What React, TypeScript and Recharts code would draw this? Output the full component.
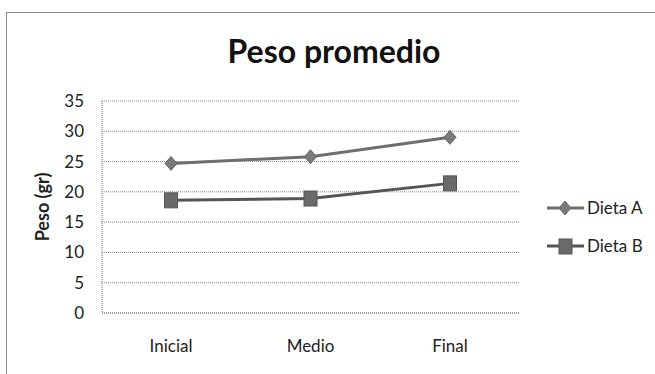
import React from 'react';
import { LineChart, Line, XAxis, YAxis, CartesianGrid } from 'recharts';

const categories = ['Inicial', 'Medio', 'Final'];
const dietaA = [24.7, 25.8, 29.0];
const dietaB = [18.6, 18.9, 21.4];
const yTicks = [0, 5, 10, 15, 20, 25, 30, 35];
const seriesNames = ['Dieta A', 'Dieta B'];

const data = categories.map((c, i) => ({ name: c, A: dietaA[i], B: dietaB[i] }));

const FONT = 'Lato, "Open Sans", sans-serif';
const colA = '#6e6e6e';
const colB = '#555555';

const Diamond = (p: any) => {
  const { cx, cy, index } = p;
  if (cx == null || cy == null) return <g key={'a' + index} />;
  return (
    <path
      key={'a' + index}
      d={`M${cx},${cy - 7} L${cx + 6},${cy} L${cx},${cy + 7} L${cx - 6},${cy} Z`}
      fill="#7a7a7a"
      stroke="#666"
      strokeWidth={1}
    />
  );
};

const Square = (p: any) => {
  const { cx, cy, index } = p;
  if (cx == null || cy == null) return <g key={'b' + index} />;
  return (
    <rect key={'b' + index} x={cx - 6.5} y={cy - 7.5} width={13} height={15} fill="#6a6a6a" stroke="#555" strokeWidth={1} />
  );
};

const LegendBox = () => (
  <svg width={110} height={60} style={{ display: 'block', overflow: 'visible' }}>
    <line x1={2} y1={12} x2={39} y2={12} stroke={colA} strokeWidth={3} />
    <path d="M20,5 L26,12 L20,19 L14,12 Z" fill="#7a7a7a" stroke="#666" />
    <text x={42} y={12} dy="0.35em" fontSize={17} fontFamily={FONT} fill="#222">{seriesNames[0]}</text>
    <line x1={2} y1={50} x2={39} y2={50} stroke={colB} strokeWidth={3} />
    <rect x={14} y={43} width={13} height={15} fill="#6a6a6a" stroke="#555" />
    <text x={42} y={50} dy="0.35em" fontSize={17} fontFamily={FONT} fill="#222">{seriesNames[1]}</text>
  </svg>
);

export default function App() {
  return (
    <div style={{ position: 'absolute', left: 0, top: 0, width: 655, height: 374, background: '#fff', overflow: 'hidden' }}>
      <div style={{ position: 'absolute', left: 6, top: 12, width: 700, height: 400, border: '1.5px solid #8a8a8a' }} />
      <div
        style={{
          position: 'absolute',
          left: 0,
          top: 36,
          width: 668,
          textAlign: 'center',
          fontFamily: FONT,
          fontWeight: 700,
          fontSize: 32,
          lineHeight: '30px',
          color: '#111',
        }}
      >
        Peso promedio
      </div>
      <div style={{ position: 'absolute', left: 0, top: 0 }}>
        <LineChart width={655} height={374} data={data} margin={{ top: 101, right: 136, bottom: 0, left: 0 }}>
          <CartesianGrid vertical={false} stroke="#8a8a8a" strokeDasharray="1 1" />
          <XAxis
            dataKey="name"
            height={61}
            tickSize={0}
            tickMargin={27}
            padding={{ left: 69, right: 69 }}
            axisLine={{ stroke: '#777', strokeDasharray: '1 1' }}
            tick={{ fontSize: 17, fontFamily: FONT, fill: '#222' }}
          />
          <YAxis
            width={102}
            domain={[0, 35]}
            ticks={yTicks}
            interval={0}
            tickSize={0}
            tickMargin={18}
            axisLine={{ stroke: '#777', strokeDasharray: '1 1' }}
            tick={{ fontSize: 17, fontFamily: FONT, fill: '#222' }}
            label={{
              value: 'Peso (gr)',
              angle: -90,
              position: 'insideLeft',
              offset: 43,
              style: { textAnchor: 'middle', fontSize: 18, fontWeight: 700, fontFamily: FONT, fill: '#222' },
            }}
          />
          <Line dataKey="A" name={seriesNames[0]} stroke={colA} strokeWidth={3} dot={Diamond} isAnimationActive={false} />
          <Line dataKey="B" name={seriesNames[1]} stroke={colB} strokeWidth={3} dot={Square} isAnimationActive={false} />
        </LineChart>
      </div>
      <div style={{ position: 'absolute', left: 545, top: 196 }}>
        <LegendBox />
      </div>
    </div>
  );
}
